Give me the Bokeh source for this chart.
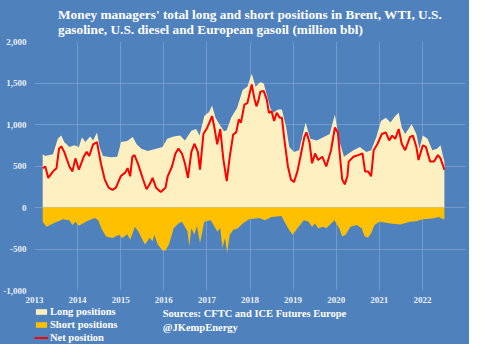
from bokeh.plotting import figure
from bokeh.layouts import column
from bokeh.models import Range1d, FixedTicker, NumeralTickFormatter, Legend, LegendItem, Label
from bokeh.embed import file_html
from bokeh.resources import INLINE

# ---- data (million bbl), decimal years ----
long_dates = [2013.19, 2013.25, 2013.32, 2013.43, 2013.54, 2013.62, 2013.69, 2013.81, 2013.92,
              2014.03, 2014.10, 2014.18, 2014.29, 2014.36, 2014.45, 2014.51, 2014.59, 2014.77, 2014.92,
              2015.01, 2015.15, 2015.28, 2015.37, 2015.48, 2015.63, 2015.82, 2015.97,
              2016.08, 2016.23, 2016.38, 2016.49, 2016.64, 2016.75, 2016.83, 2016.94,
              2017.05, 2017.12, 2017.20, 2017.30, 2017.40, 2017.46, 2017.57, 2017.70, 2017.83, 2017.94,
              2018.04, 2018.13, 2018.24, 2018.32, 2018.39, 2018.47, 2018.54, 2018.65, 2018.74, 2018.84, 2018.91,
              2019.02, 2019.14, 2019.29, 2019.40, 2019.55, 2019.70, 2019.85, 2019.97,
              2020.07, 2020.18, 2020.29, 2020.40, 2020.55, 2020.70, 2020.81, 2020.93,
              2021.04, 2021.15, 2021.26, 2021.37, 2021.45, 2021.52, 2021.60, 2021.75, 2021.86, 2021.93,
              2022.01, 2022.12, 2022.23, 2022.34, 2022.42, 2022.49, 2022.51]
long_vals = [643, 620, 631, 643, 827, 866, 788, 729, 749,
             729, 847, 788, 855, 808, 905, 729, 620, 604, 611,
             788, 800, 850, 761, 709, 682, 709, 729,
             827, 855, 866, 808, 925, 945, 866, 1102,
             1150, 1230, 1080, 995, 920, 930, 1090, 1200, 1415, 1455,
             1611, 1455, 1513, 1494, 1356, 1200, 1141, 1180, 1180, 964, 729,
             670, 690, 1023, 827, 808, 847, 886, 1121,
             808, 611, 651, 690, 729, 670, 690, 847,
             1043, 1082, 1023, 1102, 1141, 964, 886, 1004, 886, 709,
             866, 827, 690, 709, 749, 592, 560]

short_dates = [2013.19, 2013.28, 2013.43, 2013.66, 2013.81, 2013.88, 2013.95,
               2014.03, 2014.21, 2014.40, 2014.48, 2014.55, 2014.66, 2014.81, 2014.96,
               2015.04, 2015.15, 2015.22, 2015.33, 2015.41, 2015.56, 2015.67, 2015.74, 2015.78, 2015.86, 2015.97,
               2016.04, 2016.12, 2016.23, 2016.34, 2016.42, 2016.49, 2016.55, 2016.59, 2016.64, 2016.71,
               2016.77, 2016.84, 2016.94,
               2017.09, 2017.24, 2017.31, 2017.36, 2017.42, 2017.47, 2017.53, 2017.61, 2017.72, 2017.83, 2017.98,
               2018.21, 2018.35, 2018.50, 2018.73, 2018.80, 2018.91, 2018.99,
               2019.10, 2019.25, 2019.36, 2019.44, 2019.51, 2019.58, 2019.70, 2019.77, 2019.96,
               2020.07, 2020.14, 2020.22, 2020.33, 2020.48, 2020.59, 2020.66, 2020.74, 2020.81, 2020.89,
               2021.00, 2021.26, 2021.49, 2021.71, 2021.86,
               2022.01, 2022.23, 2022.38, 2022.49, 2022.51]
short_vals = [-172, -231, -192, -141, -153, -212, -172,
              -220, -165, -125, -153, -251, -349, -368, -329,
              -368, -321, -388, -231, -290, -447, -368, -408, -329, -447, -517,
              -517, -447, -251, -192, -172, -231, -290, -466, -251, -329,
              -220, -427, -172,
              -153, -290, -251, -486, -368, -545, -329, -270, -250, -192, -141,
              -125, -153, -114, -102, -172, -270, -329,
              -251, -153, -172, -231, -192, -251, -231, -251, -153,
              -251, -349, -329, -231, -212, -251, -349, -361, -310, -212,
              -172, -192, -204, -172, -165,
              -141, -133, -114, -141, -141]

net_dates = [2013.19, 2013.25, 2013.32, 2013.43, 2013.51, 2013.57, 2013.62, 2013.69, 2013.81, 2013.88, 2013.95,
             2014.03, 2014.14, 2014.21, 2014.27, 2014.36, 2014.45, 2014.54, 2014.63, 2014.72, 2014.81, 2014.89,
             2015.00, 2015.11, 2015.16, 2015.22, 2015.27, 2015.32, 2015.41, 2015.52, 2015.60, 2015.67, 2015.74,
             2015.82, 2015.93,
             2016.04, 2016.09, 2016.19, 2016.27, 2016.34, 2016.42, 2016.49, 2016.56, 2016.64, 2016.71, 2016.79,
             2016.84, 2016.92,
             2017.01, 2017.12, 2017.18, 2017.24, 2017.31, 2017.38, 2017.46, 2017.53, 2017.61, 2017.68, 2017.74,
             2017.79, 2017.87, 2017.94,
             2018.00, 2018.04, 2018.10, 2018.15, 2018.19, 2018.24, 2018.32, 2018.39, 2018.44, 2018.50, 2018.56,
             2018.62, 2018.69, 2018.74, 2018.80, 2018.88, 2018.95,
             2019.02, 2019.10, 2019.17, 2019.26, 2019.31, 2019.38, 2019.44, 2019.51, 2019.58, 2019.68, 2019.77,
             2019.88, 2019.97,
             2020.04, 2020.09, 2020.14, 2020.20, 2020.26, 2020.29, 2020.40, 2020.51, 2020.61, 2020.67, 2020.74,
             2020.81, 2020.87, 2020.96,
             2021.06, 2021.15, 2021.23, 2021.30, 2021.37, 2021.45, 2021.52, 2021.60, 2021.71, 2021.78, 2021.86,
             2021.91,
             2022.01, 2022.08, 2022.18, 2022.27, 2022.36, 2022.42, 2022.51]
net_vals = [474, 494, 356, 435, 474, 709, 737, 670, 494, 435, 592,
            455, 611, 670, 620, 761, 788, 533, 337, 239, 212, 239,
            376, 423, 474, 376, 611, 631, 514, 337, 220, 279, 356,
            239, 188,
            239, 376, 494, 651, 709, 651, 533, 356, 670, 768, 670,
            455, 886,
            964, 1102, 945, 760, 945, 590, 318, 611, 880, 905, 1062,
            1023, 1239, 1258,
            1396, 1482, 1317, 1219, 1278, 1396, 1403, 1297, 1141, 1161, 1043,
            1141, 1082, 1082, 808, 494, 337,
            306, 435, 611, 847, 905, 788, 533, 651, 572, 611, 494,
            690, 964,
            900, 600, 337, 279, 376, 553, 611, 631, 651, 435, 435,
            376, 690, 768,
            886, 905, 808, 866, 827, 945, 768, 690, 847, 866, 729,
            572,
            749, 729, 553, 553, 631, 592, 455]

year_ticks = [2013, 2014, 2015, 2016, 2017, 2018, 2019, 2020, 2021, 2022]
value_ticks = [-1000, -500, 0, 500, 1000, 1500, 2000]

title_text = ("Money managers' total long and short positions in Brent, WTI, U.S.\n"
              "gasoline, U.S. diesel and European gasoil  (million bbl)")
legend_labels = ["Long positions", "Short positions", "Net position"]
source_lines = ["Sources: CFTC and ICE Futures Europe", "@JKempEnergy"]

# ---- styling ----
BG = "#4f81bd"
LONG_C = "#fff0c1"
SHORT_C = "#ffc000"
NET_C = "#ff0000"
GRID_C = "#8eabd6"
TXT_C = "#e9eef6"
SERIF = "Liberation Serif"
W = 469
H_MAIN = 305
H_LEG = 39
B_LEFT = 28
B_RIGHT = 4

p = figure(width=W, height=H_MAIN, output_backend="svg", toolbar_location=None,
           x_range=Range1d(2013, 2023), y_range=Range1d(-1000, 2000),
           background_fill_color=BG, border_fill_color=BG,
           min_border_left=B_LEFT, min_border_right=B_RIGHT, min_border_top=0, min_border_bottom=0)
p.outline_line_color = None

p.title.text = title_text
p.title.align = "center"
p.title.text_color = "white"
p.title.text_font = SERIF
p.title.text_font_size = "13.3px"
p.title.text_font_style = "bold"
p.title.standoff = 9
p.title.offset = -11

p.varea(x=long_dates, y1=0, y2=long_vals, fill_color=LONG_C)
p.varea(x=short_dates, y1=short_vals, y2=0, fill_color=SHORT_C)
p.line(x=net_dates, y=net_vals, line_color=NET_C, line_width=2)

p.xaxis.ticker = FixedTicker(ticks=year_ticks)
p.yaxis.ticker = FixedTicker(ticks=value_ticks)
p.yaxis.formatter = NumeralTickFormatter(format="0,0")
p.xgrid.ticker = FixedTicker(ticks=year_ticks)
p.ygrid.ticker = FixedTicker(ticks=value_ticks)
for g in (p.xgrid, p.ygrid):
    g.grid_line_color = GRID_C
    g.grid_line_alpha = 0.6
    g.grid_line_width = 1

for ax in (p.xaxis, p.yaxis):
    ax.axis_line_color = None
    ax.major_tick_line_color = None
    ax.minor_tick_line_color = None
    ax.major_tick_out = 0
    ax.major_tick_in = 0
    ax.minor_tick_out = 0
    ax.major_label_text_color = TXT_C
    ax.major_label_text_font = SERIF
    ax.major_label_text_font_style = "bold"
    ax.major_label_text_font_size = "9px"
p.yaxis.major_label_standoff = 8
p.xaxis.major_label_standoff = 6

# ---- legend / sources strip (same frame borders as the chart) ----
q = figure(width=W, height=H_LEG, output_backend="svg", toolbar_location=None,
           x_range=Range1d(0, W - B_LEFT - B_RIGHT), y_range=Range1d(0, H_LEG),
           x_axis_location=None, y_axis_location=None,
           background_fill_color=BG, border_fill_color=BG,
           min_border_left=B_LEFT, min_border_right=B_RIGHT, min_border_top=0, min_border_bottom=0)
q.outline_line_color = None
q.xgrid.visible = False
q.ygrid.visible = False

# legend-key renderers (kept outside the visible range)
k_long = q.varea(x=[-60, -50], y1=[0, 0], y2=[1, 1], fill_color=LONG_C)
k_short = q.varea(x=[-60, -50], y1=[0, 0], y2=[1, 1], fill_color=SHORT_C)
k_net = q.line(x=[-60, -50], y=[0, 0], line_color=NET_C, line_width=2)

legend = Legend(items=[LegendItem(label=legend_labels[0], renderers=[k_long]),
                       LegendItem(label=legend_labels[1], renderers=[k_short]),
                       LegendItem(label=legend_labels[2], renderers=[k_net])],
                location=(0, 0), orientation="vertical")
legend.background_fill_alpha = 0
legend.border_line_color = None
legend.label_text_color = "white"
legend.label_text_font = SERIF
legend.label_text_font_style = "bold"
legend.label_text_font_size = "10.5px"
legend.glyph_width = 14
legend.glyph_height = 7
legend.label_height = 13
legend.label_standoff = 2
legend.spacing = 0
legend.padding = 0
legend.margin = 0
q.add_layout(legend)

for i, line in enumerate(source_lines):
    q.add_layout(Label(x=130, y=31 - 14 * i, text=line, text_color="white",
                       text_font=SERIF, text_font_style="bold", text_font_size="10.5px",
                       text_baseline="middle"))

layout = column(p, q, spacing=0, styles={"background-color": BG})
open("out.html", "w").write(file_html(layout, INLINE))
